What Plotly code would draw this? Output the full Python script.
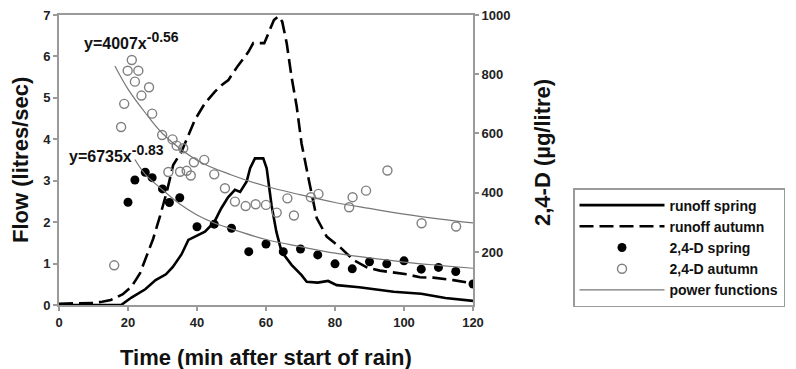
import plotly.graph_objects as go

# ---- data ----
runoff_spring_t = [0, 18, 21, 25, 28, 31, 33, 35.5, 37.5, 40, 42.3, 45, 47, 49, 51, 52.5, 54.4, 55.4,
                   56.8, 59.2, 60.2, 61.6, 63, 64.5, 67.4, 70.3, 71.8, 75, 78, 80.5, 87, 97, 105, 112, 120]
runoff_spring_q = [0, 0, 0.18, 0.38, 0.6, 0.74, 0.92, 1.22, 1.57, 1.68, 1.77, 2.0, 2.33, 2.6, 2.78, 2.73, 2.98, 3.3,
                   3.54, 3.54, 3.3, 2.41, 1.77, 1.29, 0.97, 0.72, 0.56, 0.54, 0.58, 0.48, 0.43, 0.32, 0.27, 0.17, 0.1]

runoff_autumn_t = [0, 5, 10, 12.5, 15, 18.5, 21, 23.5, 25.4, 27.3, 29.3, 31.2, 33.1, 35.5, 39.4, 42.3, 45.2, 47.2,
                   49.1, 52, 54.9, 56.3, 59.5, 61.2, 62.3, 63.6, 64.7, 66, 67.4, 68.9, 70.3, 72.5, 74.7, 77.6,
                   81.4, 85.3, 89.2, 93, 97, 100.8, 104.6, 108.5, 114.3, 120]
runoff_autumn_q = [0.03, 0.04, 0.05, 0.08, 0.12, 0.26, 0.44, 0.77, 1.17, 1.6, 2.15, 2.72, 3.38, 3.7, 4.47, 4.87,
                   5.15, 5.31, 5.43, 5.79, 6.11, 6.32, 6.32, 6.65, 6.88, 6.97, 6.84, 6.32, 5.51, 4.79, 3.9, 2.98,
                   2.1, 1.65, 1.4, 1.09, 0.91, 0.83, 0.79, 0.74, 0.67, 0.66, 0.6, 0.52]

d_spring_t = [20, 22, 25, 27, 30, 32, 35, 40, 45, 50, 55, 60, 65, 70, 75, 80, 85, 90, 95, 100, 105, 110, 115, 120]
d_spring_c = [368, 443, 469, 451, 413, 367, 383, 285, 294, 280, 201, 227, 201, 210, 190, 160, 143, 167, 160, 170,
              142, 148, 134, 92]

d_autumn_t = [16, 18, 18.9, 19.9, 21.1, 22, 23, 23.9, 26.1, 27, 29.9, 31.7, 32.9, 34.1, 35.1, 36, 37, 38.2, 39.1,
              42.1, 45, 48.1, 51, 54.1, 57, 60, 63.1, 66.2, 68.1, 73, 75.2, 84.1, 85.1, 89, 95.2, 105.1, 115.1]
d_autumn_c = [155, 622, 700, 812, 848, 775, 812, 728, 756, 667, 595, 470, 580, 559, 471, 550, 474, 458, 503,
              511, 462, 415, 370, 355, 361, 359, 333, 381, 323, 385, 396, 351, 385, 407, 475, 297, 286]

pf_autumn_t = [16.2, 20, 25, 30, 40, 50, 60, 70, 80, 90, 100, 110, 120]
pf_autumn_c = [828, 750, 670, 600, 510, 460, 422, 393, 367, 347, 328, 312, 298]
pf_spring_t = [22, 25, 30, 35, 40, 45, 50, 60, 70, 80, 90, 100, 110, 120]
pf_spring_c = [512, 462, 410, 362, 325, 298, 278, 242, 218, 196, 180, 166, 155, 145]

x_ticks = [0, 20, 40, 60, 80, 100, 120]
flow_ticks = [0, 1, 2, 3, 4, 5, 6, 7]
conc_ticks = [200, 400, 600, 800, 1000]

legend_names = ["runoff spring", "runoff autumn", "2,4-D spring", "2,4-D autumn", "power functions"]
eq_autumn = "y=4007x<sup><span style='font-size:14px'>-0.56</span></sup>"
eq_spring = "y=6735x<sup><span style='font-size:14px'>-0.83</span></sup>"

FONT = "Liberation Sans, Arial, sans-serif"
AXC = "#9a9a9a"

# the page body adds an 8px offset, so the figure is 8px smaller and margins shifted
OFF = 8
PL, PT, PW, PH = 59, 15, 414, 290   # plot area in page pixels

fig = go.Figure()
fig.add_trace(go.Scatter(x=runoff_spring_t, y=runoff_spring_q, mode="lines", name=legend_names[0],
                         line=dict(color="black", width=2.6), yaxis="y"))
fig.add_trace(go.Scatter(x=runoff_autumn_t, y=runoff_autumn_q, mode="lines", name=legend_names[1],
                         line=dict(color="black", width=2.6, dash="14px,6px"), yaxis="y"))
fig.add_trace(go.Scatter(x=d_spring_t, y=d_spring_c, mode="markers", name=legend_names[2],
                         marker=dict(color="black", size=9, symbol="circle"), yaxis="y2"))
fig.add_trace(go.Scatter(x=d_autumn_t, y=d_autumn_c, mode="markers", name=legend_names[3],
                         marker=dict(color="#808080", size=9, symbol="circle-open", line=dict(width=1.4)),
                         yaxis="y2"))
fig.add_trace(go.Scatter(x=pf_autumn_t, y=pf_autumn_c, mode="lines", name=legend_names[4],
                         line=dict(color="#777777", width=1.2, shape="spline"), yaxis="y2"))
fig.add_trace(go.Scatter(x=pf_spring_t, y=pf_spring_c, mode="lines", name=legend_names[4], showlegend=False,
                         line=dict(color="#777777", width=1.2, shape="spline"), yaxis="y2"))

tickfont = dict(family=FONT, size=13, color="#222222", weight="bold")
W, H = 796 - OFF, 369 - OFF

axis_common = dict(showgrid=False, zeroline=False, showline=True, linecolor=AXC, linewidth=2,
                   automargin=False, ticks="outside", ticklen=4, tickcolor=AXC, tickwidth=1.5,
                   tickfont=tickfont, ticklabeloverflow="allow")

fig.update_layout(
    width=W, height=H,
    margin=dict(l=PL - OFF, r=W - (PL - OFF) - PW, t=PT - OFF, b=H - (PT - OFF) - PH, autoexpand=False),
    paper_bgcolor="white", plot_bgcolor="white",
    showlegend=True,
    legend=dict(x=(573 - PL) / PW, y=(PT + PH - 188) / PH, xanchor="left", yanchor="top",
                bordercolor="#9a9a9a", borderwidth=1.5, bgcolor="white",
                font=dict(family=FONT, size=14, color="#111111", weight="bold"),
                tracegroupgap=1, itemwidth=85),
    xaxis=dict(range=[0, 120], tickvals=x_ticks, mirror=True, **axis_common),
    yaxis=dict(range=[0, 7], tickvals=flow_ticks, **axis_common),
    yaxis2=dict(range=[21, 1000], tickvals=conc_ticks, overlaying="y", side="right", **axis_common),
)

title_font = dict(family=FONT, size=22, color="#111111", weight="bold")
fig.add_annotation(text="Time (min after start of rain)", xref="paper", yref="paper",
                   x=0.5, y=(PT + PH - 357) / PH, xanchor="center", yanchor="middle", showarrow=False,
                   font=title_font)
fig.add_annotation(text="Flow (litres/sec)", xref="paper", yref="paper",
                   x=(20 - PL) / PW, y=(PT + PH - 160) / PH, textangle=-90, xanchor="center", yanchor="middle",
                   showarrow=False, font=title_font, borderpad=0)
fig.add_annotation(text="2,4-D (µg/litre)", xref="paper", yref="paper",
                   x=(542 - PL) / PW, y=(PT + PH - 153) / PH, textangle=-90, xanchor="center", yanchor="middle",
                   showarrow=False, font=title_font)

eq_font = dict(family=FONT, size=16, color="#111111", weight="bold")
fig.add_annotation(text=eq_autumn, xref="x", yref="y", x=6.6, y=6.38, xanchor="left", yanchor="middle",
                   showarrow=False, font=eq_font)
fig.add_annotation(text=eq_spring, xref="x", yref="y", x=2.2, y=3.65, xanchor="left", yanchor="middle",
                   showarrow=False, font=eq_font)

fig.write_html("out.html")
